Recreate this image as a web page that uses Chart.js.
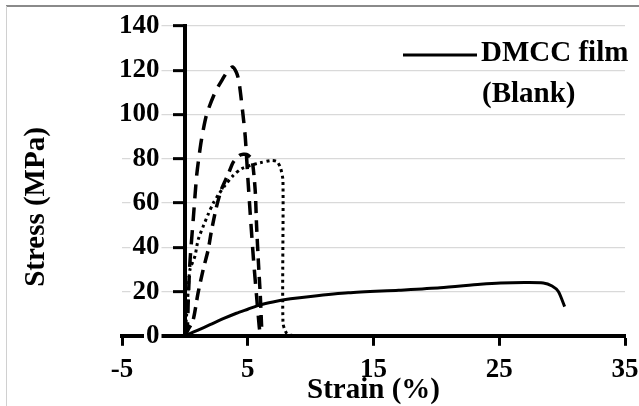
<!DOCTYPE html>
<html>
<head>
<meta charset="utf-8">
<title>Stress strain</title>
<script src="https://cdn.jsdelivr.net/npm/chart.js@4/dist/chart.umd.min.js"></script>
<style>
  body { margin: 0; background: #fff; }
  #wrap { position: relative; width: 639px; height: 406px; }
</style>
</head>
<body>
<div id="wrap"><canvas id="stressChart"></canvas></div>
<script>
'use strict';
//data (strain %, stress MPa)
var dmccX = [0, 0.4, 1, 2, 3, 4.1, 5, 6, 7, 8.4, 10, 13, 17, 20.3, 23.5, 25.1, 27, 28.5, 29.2, 29.7, 30.2];
var dmccY = [0, 1, 2.5, 5, 7.6, 10.2, 12, 14, 15.3, 16.7, 17.8, 19.4, 20.6, 21.7, 23.3, 23.9, 24.1, 23.9, 22.5, 20, 13.2];

var longDashX = [0, 0.19, 0.27, 0.4, 0.67, 0.93, 1.1, 1.33, 1.73, 2.4, 3, 3.45, 3.8, 4.1, 4.3, 4.6, 4.8, 5, 5.2, 5.45, 5.7, 5.9, 6];
var longDashY = [0, 4, 16, 33, 53, 72, 80, 89, 100, 110, 116, 120, 121.5, 119, 115, 101, 90, 72, 55, 35, 18, 5, 0];

var dashX = [0, 0.25, 0.65, 1.05, 1.45, 1.85, 2.1, 2.5, 2.9, 3.2, 3.45, 3.85, 4.4, 4.9, 5.3, 5.45, 5.6, 5.7, 5.85, 6, 6.1, 6.15];
var dashY = [0, 2.7, 7, 19.4, 29.8, 38.8, 47, 58, 66, 70, 73, 78.5, 81.7, 82, 80, 75, 65, 50, 33, 18, 4.5, 0];

var dotX = [0, 0.13, 0.27, 0.4, 0.8, 1.06, 1.46, 1.86, 2.26, 2.65, 3.2, 3.85, 4.5, 5.2, 6, 6.8, 7.3, 7.6, 7.8, 7.8, 8.1, 8.6];
var dotY = [0, 8.7, 20.8, 29.8, 36, 43.5, 49.5, 55, 60, 63.6, 68, 72.5, 75.5, 77, 78.2, 79.2, 78.8, 76, 70, 6, 1, 0];

var xTicks = [-5, 5, 15, 25, 35];
var yTicks = [0, 20, 40, 60, 80, 100, 120, 140];

var xTitle = 'Strain (%)';
var yTitle = 'Stress (MPa)';
var legendLines = ['DMCC film', '(Blank)'];

var serif = '"Liberation Serif", "Times New Roman", serif';

//turn two arrays into scatter points
function toPoints(xs, ys){
  var pts = [];
  for (var i = 0; i < xs.length; i++){
    pts.push({x: xs[i], y: ys[i]});
  }
  return pts;
}

function makeSet(label, xs, ys, dash, width){
  return {
    label: label,
    data: toPoints(xs, ys),
    showLine: true,
    borderColor: '#000',
    borderWidth: width,
    borderDash: dash,
    pointRadius: 0,
    tension: 0.25,
    fill: false
  };
}

function fixedTicks(list){
  return function(axis){
    axis.ticks = list.map(function(v){ return {value: v}; });
  };
}

//frame, y title and the legend box inside the plot
var extras = {
  id: 'extras',
  afterDraw: function(chart){
    var ctx = chart.ctx;
    ctx.save();
    ctx.strokeStyle = '#8a8a8a';
    ctx.lineWidth = 2;
    ctx.beginPath();
    ctx.moveTo(6, 6);
    ctx.lineTo(639, 6);
    ctx.stroke();
    ctx.strokeStyle = '#d0d0d0';
    ctx.lineWidth = 1;
    ctx.beginPath();
    ctx.moveTo(6.5, 6);
    ctx.lineTo(6.5, 406);
    ctx.stroke();

    ctx.fillStyle = '#000';
    ctx.font = 'bold 29px ' + serif;
    ctx.textAlign = 'center';
    ctx.textBaseline = 'middle';
    ctx.translate(37, 207);
    ctx.rotate(-Math.PI / 2);
    ctx.fillText(yTitle, 0, 0);
    ctx.restore();

    ctx.save();
    ctx.strokeStyle = '#000';
    ctx.lineWidth = 3;
    ctx.beginPath();
    ctx.moveTo(403, 55);
    ctx.lineTo(477, 55);
    ctx.stroke();
    ctx.fillStyle = '#000';
    ctx.font = 'bold 29px ' + serif;
    ctx.textAlign = 'left';
    ctx.textBaseline = 'middle';
    ctx.fillText(legendLines[0], 481, 54);
    ctx.fillText(legendLines[1], 482, 95);
    ctx.restore();
  }
};

var tickFont = { family: serif, size: 27, weight: 'bold' };

var ctx = document.getElementById('stressChart');
var myChart = new Chart(ctx, {
  type: 'scatter',
  data: {
    datasets: [
      makeSet('DMCC film (Blank)', dmccX, dmccY, [], 3),
      makeSet('long dash', longDashX, longDashY, [14, 9], 3.5),
      makeSet('dash', dashX, dashY, [12, 7], 3.5),
      makeSet('dot', dotX, dotY, [3, 3.5], 3)
    ]
  },
  options: {
    responsive: true,
    maintainAspectRatio: false,
    animation: false,
    layout: { padding: { left: 122, right: 14, top: 26, bottom: 0 } },
    plugins: {
      legend: { display: false },
      tooltip: { enabled: false }
    },
    scales: {
      x: {
        type: 'linear',
        position: 'bottom',
        min: -5,
        max: 35,
        afterBuildTicks: fixedTicks(xTicks),
        afterFit: function(axis){
          axis.paddingLeft = 0;
          axis.paddingRight = 0;
        },
        border: { color: '#000', width: 4 },
        grid: { drawOnChartArea: false, drawTicks: true, tickLength: 10, tickColor: '#000', tickWidth: 3 },
        ticks: { color: '#000', font: tickFont, padding: 8, maxRotation: 0 },
        title: { display: true, text: xTitle, color: '#000', font: { family: serif, size: 29, weight: 'bold' }, padding: { top: -21.5, bottom: -1.5 } }
      },
      y: {
        type: 'linear',
        position: { x: 0 },
        min: 0,
        max: 140,
        afterBuildTicks: fixedTicks(yTicks),
        border: { color: '#000', width: 4 },
        grid: { color: '#d9d9d9', lineWidth: 1.3, drawTicks: true, tickLength: 10, tickColor: '#000', tickWidth: 3 },
        ticks: { display: false }
      },
      //labels for the stress axis, right aligned just left of its tick marks
      yLabels: {
        type: 'linear',
        axis: 'y',
        position: 'left',
        min: 0,
        max: 140,
        afterBuildTicks: fixedTicks(yTicks),
        afterFit: function(axis){
          axis.width = 0;
        },
        border: { display: false },
        grid: { display: false, drawTicks: false },
        ticks: {
          color: '#000',
          font: tickFont,
          mirror: true,
          crossAlign: 'far',
          padding: -3,
          z: 1,
          showLabelBackdrop: true,
          backdropColor: '#fff',
          backdropPadding: 2
        }
      }
    }
  },
  plugins: [extras]
});
</script>
</body>
</html>
